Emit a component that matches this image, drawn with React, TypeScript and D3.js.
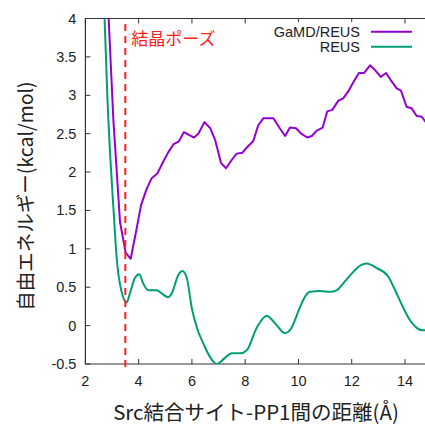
import React from "react";
import * as d3 from "d3";

const xTicks = [2, 4, 6, 8, 10, 12, 14];
const yTicks = [-0.5, 0, 0.5, 1, 1.5, 2, 2.5, 3, 3.5, 4];

const gamdX = [2.82, 3.05, 3.3, 3.51, 3.7, 3.9, 4.09, 4.3, 4.49, 4.7, 4.93, 5.1, 5.3, 5.51, 5.7, 5.9, 6.08, 6.24, 6.47, 6.69, 6.87, 7.09, 7.28, 7.52, 7.68, 7.89, 8.06, 8.3, 8.49, 8.68, 9.06, 9.28, 9.5, 9.68, 9.91, 10.1, 10.33, 10.5, 10.69, 10.91, 11.08, 11.27, 11.5, 11.68, 11.87, 12.06, 12.27, 12.46, 12.69, 12.87, 13.09, 13.29, 13.5, 13.69, 13.85, 14.06, 14.25, 14.44, 14.63, 14.8, 15.0];
const gamdY = [4.4, 2.68, 1.35, 0.95, 0.87, 1.22, 1.57, 1.78, 1.92, 1.98, 2.14, 2.25, 2.36, 2.4, 2.52, 2.48, 2.45, 2.5, 2.65, 2.57, 2.42, 2.12, 2.05, 2.17, 2.24, 2.25, 2.32, 2.4, 2.61, 2.7, 2.7, 2.58, 2.47, 2.58, 2.57, 2.5, 2.45, 2.47, 2.54, 2.58, 2.79, 2.81, 2.93, 2.96, 3.05, 3.17, 3.29, 3.29, 3.39, 3.33, 3.24, 3.29, 3.18, 3.09, 3.06, 2.85, 2.83, 2.73, 2.72, 2.64, 2.6];

const reusX = [2.64, 2.72, 2.83, 2.95, 3.08, 3.17, 3.36, 3.55, 3.67, 3.86, 4.02, 4.17, 4.36, 4.68, 4.86, 5.11, 5.24, 5.49, 5.64, 5.8, 6.0, 6.2, 6.45, 6.7, 6.93, 7.24, 7.49, 7.81, 8.06, 8.43, 8.81, 9.12, 9.5, 9.68, 10.06, 10.25, 10.44, 10.82, 11.19, 11.44, 11.68, 12.06, 12.31, 12.56, 12.94, 13.37, 13.63, 13.94, 14.19, 14.44, 14.63, 14.8, 15.0];
const reusY = [4.6, 4.0, 2.94, 2.1, 1.38, 0.9, 0.44, 0.3, 0.42, 0.62, 0.67, 0.55, 0.46, 0.46, 0.42, 0.37, 0.42, 0.66, 0.71, 0.63, 0.22, -0.04, -0.25, -0.42, -0.5, -0.42, -0.36, -0.36, -0.32, -0.03, 0.13, 0.03, -0.1, -0.06, 0.24, 0.38, 0.44, 0.45, 0.44, 0.46, 0.55, 0.7, 0.78, 0.81, 0.75, 0.64, 0.46, 0.23, 0.07, -0.03, -0.06, -0.06, -0.05];

const crystalX = 3.5;
const seriesNames = ["GaMD/REUS", "REUS"];
const seriesColors = ["#9400d3", "#009e73"];

export default function App() {
  const W = 425, H = 427;
  const left = 85.4, right = 431.6, top = 18.5, bottom = 364;
  const x = d3.scaleLinear().domain([2, 15]).range([left, right]);
  const y = d3.scaleLinear().domain([-0.5, 4]).range([bottom, top]);

  const gamd = gamdX.map((v, i) => [v, gamdY[i]] as [number, number]);
  const reus = reusX.map((v, i) => [v, reusY[i]] as [number, number]);
  const lin = d3.line<[number, number]>().x(d => x(d[0])).y(d => y(d[1]));
  const smooth = d3.line<[number, number]>().x(d => x(d[0])).y(d => y(d[1])).curve(d3.curveMonotoneX);

  const axisColor = "#333";
  const font = "'Liberation Sans', Arial, sans-serif";
  const jp = "'Noto Sans CJK JP', sans-serif";
  const tl = 5;

  return (
    <svg width={W} height={H} style={{ position: "absolute", left: 0, top: 0, background: "#fff" }}>
      <defs>
        <clipPath id="plot">
          <rect x={left} y={top} width={right - left} height={bottom - top} />
        </clipPath>
      </defs>
      <rect x={0} y={0} width={W} height={H} fill="#fff" />
      {xTicks.map(t => (
        <g key={"xt" + t}>
          <line x1={x(t)} x2={x(t)} y1={bottom} y2={bottom - tl} stroke={axisColor} strokeWidth={1} />
          <line x1={x(t)} x2={x(t)} y1={top} y2={top + tl} stroke={axisColor} strokeWidth={1} />
          <text x={x(t)} y={bottom + 22} textAnchor="middle" fontFamily={font} fontSize={14.5} fill="#222">{t}</text>
        </g>
      ))}
      {yTicks.map(t => (
        <g key={"yt" + t}>
          <line x1={left} x2={left + tl} y1={y(t)} y2={y(t)} stroke={axisColor} strokeWidth={1} />
          <text x={left - 9} y={y(t) + 5} textAnchor="end" fontFamily={font} fontSize={14.5} fill="#222">{t}</text>
        </g>
      ))}
      <path d={`M${right},${top}H${left}V${bottom}H${right}`} fill="none" stroke={axisColor} strokeWidth={1.2} />
      <g clipPath="url(#plot)">
        <path d={smooth(reus) || ""} fill="none" stroke={seriesColors[1]} strokeWidth={2} strokeLinejoin="round" />
        <path d={lin(gamd) || ""} fill="none" stroke={seriesColors[0]} strokeWidth={2} strokeLinejoin="round" />
      </g>
      <line x1={x(crystalX)} x2={x(crystalX)} y1={bottom + 3} y2={top + 1} stroke="#ff2020" strokeWidth={2} strokeDasharray="7,5" />
      <text x={x(crystalX) + 6} y={45} fontFamily={jp} fontSize={17} fill="#ff2020">結晶ポーズ</text>
      <rect x={262} y={22} width={100} height={32} fill="#fff" />
      {seriesNames.map((n, i) => (
        <g key={n}>
          <text x={360} y={36.5 + i * 15.3} textAnchor="end" fontFamily={font} fontSize={14.5} fill="#222">{n}</text>
          <line x1={371} x2={412} y1={31.7 + i * 15} y2={31.7 + i * 15} stroke={seriesColors[i]} strokeWidth={2} />
        </g>
      ))}
      <text transform={`translate(33,196) rotate(-90)`} textAnchor="middle" fontFamily={jp} fontSize={19.5} fill="#222">自由エネルギー(kcal/mol)</text>
      <text x={256} y={420} textAnchor="middle" fontFamily={jp} fontSize={20.5} fill="#222">Src結合サイト-PP1間の距離(Å)</text>
    </svg>
  );
}
